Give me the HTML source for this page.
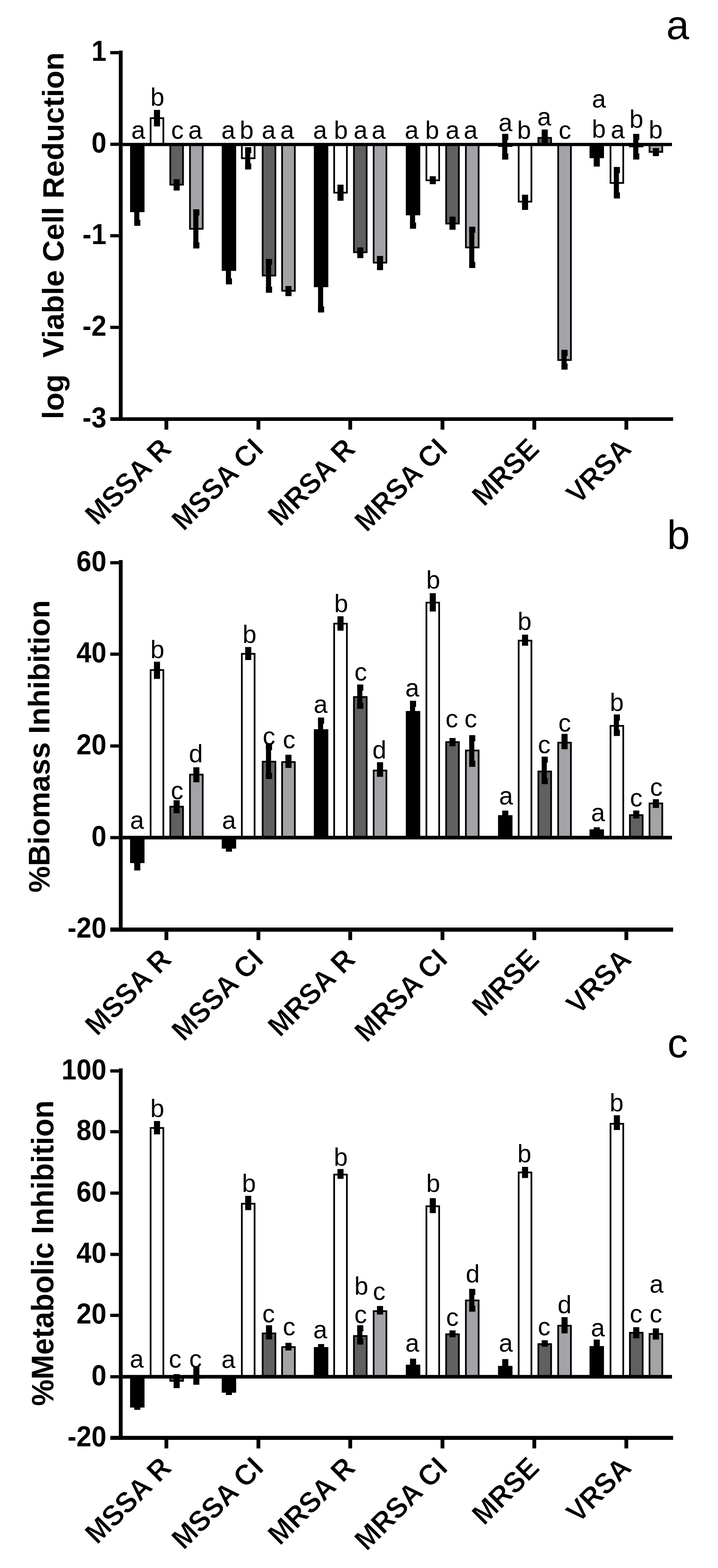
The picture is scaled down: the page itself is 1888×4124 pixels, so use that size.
<!DOCTYPE html>
<html><head><meta charset="utf-8"><title>Figure</title>
<style>
html,body{margin:0;padding:0;background:#fff;}
body{width:1888px;height:4124px;overflow:hidden;}
svg{display:block;}
text{font-family:"Liberation Sans",Arial,sans-serif;fill:#000;}
.tk{font-size:73px;font-weight:bold;text-anchor:end;}
.xl{font-size:73.3px;font-weight:bold;text-anchor:end;stroke:#fff;stroke-width:1px;stroke-linejoin:round;}
.lt{font-size:66px;text-anchor:middle;}
.ti{font-weight:bold;text-anchor:middle;white-space:pre;}
.pl{font-size:108px;text-anchor:middle;}
</style></head>
<body>
<svg width="1888" height="4124" viewBox="0 0 1888 4124">
<rect width="1888" height="4124" fill="#fff"/>
<rect x="342" y="380" width="38" height="178" fill="#000"/>
<rect x="393.8" y="308.5" width="38" height="71.5" fill="#000"/>
<rect x="398.3" y="313" width="29" height="67" fill="#ffffff"/>
<rect x="445.5" y="380" width="38" height="108" fill="#000"/>
<rect x="450" y="380" width="29" height="103.5" fill="#606060"/>
<rect x="497.3" y="380" width="38" height="224" fill="#000"/>
<rect x="501.8" y="380" width="29" height="219.5" fill="#a3a3a8"/>
<rect x="583" y="380" width="38" height="332.4" fill="#000"/>
<rect x="633.7" y="380" width="38" height="38.5" fill="#000"/>
<rect x="638.2" y="380" width="29" height="34" fill="#ffffff"/>
<rect x="688.4" y="380" width="38" height="347" fill="#000"/>
<rect x="692.9" y="380" width="29" height="342.5" fill="#606060"/>
<rect x="739.5" y="380" width="38" height="387" fill="#000"/>
<rect x="744" y="380" width="29" height="382.5" fill="#a3a3a8"/>
<rect x="825.3" y="380" width="38" height="375.3" fill="#000"/>
<rect x="876.4" y="380" width="38" height="129" fill="#000"/>
<rect x="880.9" y="380" width="29" height="124.5" fill="#ffffff"/>
<rect x="928.4" y="380" width="38" height="285.7" fill="#000"/>
<rect x="932.9" y="380" width="29" height="281.2" fill="#606060"/>
<rect x="980.3" y="380" width="38" height="313" fill="#000"/>
<rect x="984.8" y="380" width="29" height="308.5" fill="#a3a3a8"/>
<rect x="1067.1" y="380" width="38" height="186.3" fill="#000"/>
<rect x="1119" y="380" width="38" height="96.5" fill="#000"/>
<rect x="1123.5" y="380" width="29" height="92" fill="#ffffff"/>
<rect x="1170.9" y="380" width="38" height="210.3" fill="#000"/>
<rect x="1175.4" y="380" width="29" height="205.8" fill="#606060"/>
<rect x="1222.8" y="380" width="38" height="273.1" fill="#000"/>
<rect x="1227.3" y="380" width="29" height="268.6" fill="#a3a3a8"/>
<rect x="1309.6" y="380" width="38" height="6.3" fill="#000"/>
<rect x="1361.6" y="380" width="38" height="152.6" fill="#000"/>
<rect x="1366.1" y="380" width="29" height="148.1" fill="#ffffff"/>
<rect x="1413.4" y="360.4" width="38" height="19.6" fill="#000"/>
<rect x="1417.9" y="364.9" width="29" height="15.1" fill="#606060"/>
<rect x="1465.5" y="380" width="38" height="569.2" fill="#000"/>
<rect x="1470" y="380" width="29" height="564.7" fill="#a3a3a8"/>
<rect x="1550.2" y="380" width="38" height="36.1" fill="#000"/>
<rect x="1603.1" y="380" width="38" height="103.4" fill="#000"/>
<rect x="1607.6" y="380" width="29" height="98.9" fill="#ffffff"/>
<rect x="1654.1" y="380" width="38" height="7.4" fill="#000"/>
<rect x="1658.6" y="380" width="29" height="2.9" fill="#606060"/>
<rect x="1705.7" y="380" width="38" height="21.8" fill="#000"/>
<rect x="1710.2" y="380" width="29" height="17.3" fill="#a3a3a8"/>
<rect x="353" y="522" width="13.4" height="72" fill="#000"/>
<rect x="353" y="522" width="16" height="16" fill="#000"/>
<rect x="353" y="578" width="16" height="16" fill="#000"/>
<rect x="404.8" y="289" width="16" height="43.5" fill="#000"/>
<rect x="456.5" y="471.4" width="16" height="29.8" fill="#000"/>
<rect x="508.3" y="550.7" width="13.4" height="102.6" fill="#000"/>
<rect x="508.3" y="550.7" width="16" height="16" fill="#000"/>
<rect x="508.3" y="637.3" width="16" height="16" fill="#000"/>
<rect x="594" y="677" width="13.4" height="71" fill="#000"/>
<rect x="594" y="677" width="16" height="16" fill="#000"/>
<rect x="594" y="732" width="16" height="16" fill="#000"/>
<rect x="644.7" y="387" width="13.4" height="58.5" fill="#000"/>
<rect x="644.7" y="387" width="16" height="16" fill="#000"/>
<rect x="644.7" y="429.5" width="16" height="16" fill="#000"/>
<rect x="699.4" y="681" width="13.4" height="89" fill="#000"/>
<rect x="699.4" y="681" width="16" height="16" fill="#000"/>
<rect x="699.4" y="754" width="16" height="16" fill="#000"/>
<rect x="750.5" y="752.2" width="16" height="26.6" fill="#000"/>
<rect x="836.3" y="689" width="13.4" height="132.7" fill="#000"/>
<rect x="836.3" y="689" width="16" height="16" fill="#000"/>
<rect x="836.3" y="805.7" width="16" height="16" fill="#000"/>
<rect x="887.4" y="485.7" width="16" height="42.3" fill="#000"/>
<rect x="939.4" y="650.8" width="16" height="28" fill="#000"/>
<rect x="991.3" y="673.2" width="16" height="37.3" fill="#000"/>
<rect x="1078.1" y="531" width="13.4" height="70.4" fill="#000"/>
<rect x="1078.1" y="531" width="16" height="16" fill="#000"/>
<rect x="1078.1" y="585.4" width="16" height="16" fill="#000"/>
<rect x="1130" y="463.5" width="16" height="20.9" fill="#000"/>
<rect x="1181.9" y="569.8" width="16" height="34.5" fill="#000"/>
<rect x="1233.8" y="596.5" width="13.4" height="108.3" fill="#000"/>
<rect x="1233.8" y="596.5" width="16" height="16" fill="#000"/>
<rect x="1233.8" y="688.8" width="16" height="16" fill="#000"/>
<rect x="1320.6" y="352.2" width="13.4" height="67.3" fill="#000"/>
<rect x="1320.6" y="352.2" width="16" height="16" fill="#000"/>
<rect x="1320.6" y="403.5" width="16" height="16" fill="#000"/>
<rect x="1372.6" y="512.1" width="16" height="40" fill="#000"/>
<rect x="1424.4" y="340.5" width="16" height="39.5" fill="#000"/>
<rect x="1476.5" y="920.2" width="13.4" height="51.9" fill="#000"/>
<rect x="1476.5" y="920.2" width="16" height="16" fill="#000"/>
<rect x="1476.5" y="956.1" width="16" height="16" fill="#000"/>
<rect x="1561.2" y="394" width="16" height="44.1" fill="#000"/>
<rect x="1614.1" y="439.3" width="13.4" height="82.7" fill="#000"/>
<rect x="1614.1" y="439.3" width="16" height="16" fill="#000"/>
<rect x="1614.1" y="506" width="16" height="16" fill="#000"/>
<rect x="1665.1" y="352.1" width="13.4" height="67.3" fill="#000"/>
<rect x="1665.1" y="352.1" width="16" height="16" fill="#000"/>
<rect x="1665.1" y="403.4" width="16" height="16" fill="#000"/>
<rect x="1716.7" y="389.6" width="16" height="21" fill="#000"/>
<rect x="322.5" y="375.75" width="1444.5" height="8.5" fill="#000"/>
<rect x="312.5" y="133" width="10" height="973" fill="#000"/>
<rect x="290" y="1097.5" width="1480" height="9.5" fill="#000"/>
<rect x="290" y="134.25" width="22.5" height="8.5" fill="#000"/>
<text class="tk" transform="translate(279.8 160.3) scale(0.97 1.04)">1</text>
<rect x="290" y="375.25" width="22.5" height="8.5" fill="#000"/>
<text class="tk" transform="translate(279.8 401.3) scale(0.97 1.04)">0</text>
<rect x="290" y="615.75" width="22.5" height="8.5" fill="#000"/>
<text class="tk" transform="translate(279.8 641.8) scale(0.97 1.04)">-1</text>
<rect x="290" y="856.75" width="22.5" height="8.5" fill="#000"/>
<text class="tk" transform="translate(279.8 882.8) scale(0.97 1.04)">-2</text>
<rect x="290" y="1097.75" width="22.5" height="8.5" fill="#000"/>
<text class="tk" transform="translate(279.8 1123.8) scale(0.97 1.04)">-3</text>
<rect x="432.5" y="1107" width="10" height="23" fill="#000"/>
<text class="xl" transform="translate(454.9 1185.05) rotate(-45) scale(1 1.04)">MSSA R</text>
<rect x="674.5" y="1107" width="10" height="23" fill="#000"/>
<text class="xl" transform="translate(696.9 1185.05) rotate(-45) scale(1 1.04)">MSSA CI</text>
<rect x="916" y="1107" width="10" height="23" fill="#000"/>
<text class="xl" transform="translate(938.4 1185.05) rotate(-45) scale(1 1.04)">MRSA R</text>
<rect x="1158.5" y="1107" width="10" height="23" fill="#000"/>
<text class="xl" transform="translate(1180.9 1185.05) rotate(-45) scale(1 1.04)">MRSA CI</text>
<rect x="1400" y="1107" width="10" height="23" fill="#000"/>
<text class="xl" transform="translate(1422.4 1185.05) rotate(-45) scale(1 1.04)">MRSE</text>
<rect x="1642" y="1107" width="10" height="23" fill="#000"/>
<text class="xl" transform="translate(1664.4 1185.05) rotate(-45) scale(1 1.04)">VRSA</text>
<text x="363.5" y="365" class="lt">a</text>
<text x="413.9" y="277.5" class="lt">b</text>
<text x="466.6" y="365" class="lt">c</text>
<text x="513.3" y="365" class="lt">a</text>
<text x="600.3" y="365" class="lt">a</text>
<text x="648.6" y="365" class="lt">b</text>
<text x="706.7" y="365" class="lt">a</text>
<text x="755.2" y="365" class="lt">a</text>
<text x="841.7" y="365" class="lt">a</text>
<text x="896.3" y="365" class="lt">b</text>
<text x="948.1" y="365" class="lt">a</text>
<text x="995.7" y="365" class="lt">a</text>
<text x="1082.7" y="365" class="lt">a</text>
<text x="1136.3" y="365" class="lt">b</text>
<text x="1190" y="365" class="lt">a</text>
<text x="1237.5" y="365" class="lt">a</text>
<text x="1329" y="345" class="lt">a</text>
<text x="1378.2" y="364.5" class="lt">b</text>
<text x="1431" y="329.5" class="lt">a</text>
<text x="1485.6" y="364.5" class="lt">c</text>
<text x="1574.9" y="282.5" class="lt">a</text>
<text x="1574.7" y="362" class="lt">b</text>
<text x="1624.3" y="364" class="lt">a</text>
<text x="1673.3" y="335.5" class="lt">b</text>
<text x="1724" y="364" class="lt">b</text>
<text class="ti" style="font-size:78.7px" transform="translate(166.5 620) scale(1 1) rotate(-90)">log  Viable Cell Reduction</text>
<text x="1782" y="102.5" class="pl">a</text>
<rect x="342" y="2203" width="38" height="67" fill="#000"/>
<rect x="393.8" y="1760" width="38" height="443" fill="#000"/>
<rect x="398.3" y="1764.5" width="29" height="438.5" fill="#ffffff"/>
<rect x="445.5" y="2119.4" width="38" height="83.6" fill="#000"/>
<rect x="450" y="2123.9" width="29" height="79.1" fill="#606060"/>
<rect x="497.3" y="2035" width="38" height="168" fill="#000"/>
<rect x="501.8" y="2039.5" width="29" height="163.5" fill="#a3a3a8"/>
<rect x="583" y="2203" width="38" height="29" fill="#000"/>
<rect x="633.7" y="1717.3" width="38" height="485.7" fill="#000"/>
<rect x="638.2" y="1721.8" width="29" height="481.2" fill="#ffffff"/>
<rect x="688.4" y="2001" width="38" height="202" fill="#000"/>
<rect x="692.9" y="2005.5" width="29" height="197.5" fill="#606060"/>
<rect x="739.5" y="2002" width="38" height="201" fill="#000"/>
<rect x="744" y="2006.5" width="29" height="196.5" fill="#a3a3a8"/>
<rect x="825.3" y="1918" width="38" height="285" fill="#000"/>
<rect x="876.4" y="1638" width="38" height="565" fill="#000"/>
<rect x="880.9" y="1642.5" width="29" height="560.5" fill="#ffffff"/>
<rect x="928.4" y="1831" width="38" height="372" fill="#000"/>
<rect x="932.9" y="1835.5" width="29" height="367.5" fill="#606060"/>
<rect x="980.3" y="2024.3" width="38" height="178.7" fill="#000"/>
<rect x="984.8" y="2028.8" width="29" height="174.2" fill="#a3a3a8"/>
<rect x="1067.1" y="1870" width="38" height="333" fill="#000"/>
<rect x="1119" y="1582.7" width="38" height="620.3" fill="#000"/>
<rect x="1123.5" y="1587.2" width="29" height="615.8" fill="#ffffff"/>
<rect x="1170.9" y="1949.5" width="38" height="253.5" fill="#000"/>
<rect x="1175.4" y="1954" width="29" height="249" fill="#606060"/>
<rect x="1222.8" y="1971.6" width="38" height="231.4" fill="#000"/>
<rect x="1227.3" y="1976.1" width="29" height="226.9" fill="#a3a3a8"/>
<rect x="1309.6" y="2144" width="38" height="59" fill="#000"/>
<rect x="1361.6" y="1682.7" width="38" height="520.3" fill="#000"/>
<rect x="1366.1" y="1687.2" width="29" height="515.8" fill="#ffffff"/>
<rect x="1413.4" y="2026.8" width="38" height="176.2" fill="#000"/>
<rect x="1417.9" y="2031.3" width="29" height="171.7" fill="#606060"/>
<rect x="1465.5" y="1951" width="38" height="252" fill="#000"/>
<rect x="1470" y="1955.5" width="29" height="247.5" fill="#a3a3a8"/>
<rect x="1550.2" y="2181.3" width="38" height="21.7" fill="#000"/>
<rect x="1603.1" y="1906.8" width="38" height="296.2" fill="#000"/>
<rect x="1607.6" y="1911.3" width="29" height="291.7" fill="#ffffff"/>
<rect x="1654.1" y="2141.6" width="38" height="61.4" fill="#000"/>
<rect x="1658.6" y="2146.1" width="29" height="56.9" fill="#606060"/>
<rect x="1705.7" y="2110.8" width="38" height="92.2" fill="#000"/>
<rect x="1710.2" y="2115.3" width="29" height="87.7" fill="#a3a3a8"/>
<rect x="353" y="2250.6" width="16" height="38.8" fill="#000"/>
<rect x="404.8" y="1740.4" width="16" height="45.2" fill="#000"/>
<rect x="456.5" y="2104.7" width="16" height="34.3" fill="#000"/>
<rect x="508.3" y="2018" width="16" height="39.5" fill="#000"/>
<rect x="594" y="2224" width="16" height="16" fill="#000"/>
<rect x="644.7" y="1701.8" width="16" height="34.2" fill="#000"/>
<rect x="699.4" y="1957" width="13.4" height="91.6" fill="#000"/>
<rect x="699.4" y="1957" width="16" height="16" fill="#000"/>
<rect x="699.4" y="2032.6" width="16" height="16" fill="#000"/>
<rect x="750.5" y="1985" width="16" height="34.8" fill="#000"/>
<rect x="836.3" y="1887.4" width="13.4" height="61.1" fill="#000"/>
<rect x="836.3" y="1887.4" width="16" height="16" fill="#000"/>
<rect x="836.3" y="1932.5" width="16" height="16" fill="#000"/>
<rect x="887.4" y="1620.8" width="16" height="37.9" fill="#000"/>
<rect x="939.4" y="1800.5" width="13.4" height="63.6" fill="#000"/>
<rect x="939.4" y="1800.5" width="16" height="16" fill="#000"/>
<rect x="939.4" y="1848.1" width="16" height="16" fill="#000"/>
<rect x="991.3" y="2004.7" width="16" height="38.4" fill="#000"/>
<rect x="1078.1" y="1843.2" width="13.4" height="53.8" fill="#000"/>
<rect x="1078.1" y="1843.2" width="16" height="16" fill="#000"/>
<rect x="1078.1" y="1881" width="16" height="16" fill="#000"/>
<rect x="1130" y="1560.2" width="16" height="48.2" fill="#000"/>
<rect x="1181.9" y="1941" width="16" height="22" fill="#000"/>
<rect x="1233.8" y="1933.7" width="13.4" height="83.1" fill="#000"/>
<rect x="1233.8" y="1933.7" width="16" height="16" fill="#000"/>
<rect x="1233.8" y="2000.8" width="16" height="16" fill="#000"/>
<rect x="1320.6" y="2131.9" width="16" height="26.1" fill="#000"/>
<rect x="1372.6" y="1669.2" width="16" height="29.1" fill="#000"/>
<rect x="1424.4" y="1990" width="13.4" height="72.2" fill="#000"/>
<rect x="1424.4" y="1990" width="16" height="16" fill="#000"/>
<rect x="1424.4" y="2046.2" width="16" height="16" fill="#000"/>
<rect x="1476.5" y="1930.2" width="16" height="40.3" fill="#000"/>
<rect x="1561.2" y="2175.8" width="16" height="14.2" fill="#000"/>
<rect x="1614.1" y="1879.2" width="13.4" height="56.3" fill="#000"/>
<rect x="1614.1" y="1879.2" width="16" height="16" fill="#000"/>
<rect x="1614.1" y="1919.5" width="16" height="16" fill="#000"/>
<rect x="1665.1" y="2131.7" width="16" height="21" fill="#000"/>
<rect x="1716.7" y="2102" width="16" height="23" fill="#000"/>
<rect x="322.5" y="2198.25" width="1444.5" height="9.5" fill="#000"/>
<rect x="312.5" y="1473" width="10" height="977" fill="#000"/>
<rect x="290" y="2439.5" width="1480" height="11" fill="#000"/>
<rect x="290" y="1475.75" width="22.5" height="8.5" fill="#000"/>
<text class="tk" transform="translate(279.8 1501.8) scale(0.97 1.04)">60</text>
<rect x="290" y="1716.25" width="22.5" height="8.5" fill="#000"/>
<text class="tk" transform="translate(279.8 1742.3) scale(0.97 1.04)">40</text>
<rect x="290" y="1957.75" width="22.5" height="8.5" fill="#000"/>
<text class="tk" transform="translate(279.8 1983.8) scale(0.97 1.04)">20</text>
<rect x="290" y="2198.75" width="22.5" height="8.5" fill="#000"/>
<text class="tk" transform="translate(279.8 2224.8) scale(0.97 1.04)">0</text>
<rect x="290" y="2439.75" width="22.5" height="8.5" fill="#000"/>
<text class="tk" transform="translate(279.8 2465.8) scale(0.97 1.04)">-20</text>
<rect x="432.5" y="2450.5" width="10" height="22" fill="#000"/>
<text class="xl" transform="translate(454.9 2527.55) rotate(-45) scale(1 1.04)">MSSA R</text>
<rect x="674.5" y="2450.5" width="10" height="22" fill="#000"/>
<text class="xl" transform="translate(696.9 2527.55) rotate(-45) scale(1 1.04)">MSSA CI</text>
<rect x="916" y="2450.5" width="10" height="22" fill="#000"/>
<text class="xl" transform="translate(938.4 2527.55) rotate(-45) scale(1 1.04)">MRSA R</text>
<rect x="1158.5" y="2450.5" width="10" height="22" fill="#000"/>
<text class="xl" transform="translate(1180.9 2527.55) rotate(-45) scale(1 1.04)">MRSA CI</text>
<rect x="1400" y="2450.5" width="10" height="22" fill="#000"/>
<text class="xl" transform="translate(1422.4 2527.55) rotate(-45) scale(1 1.04)">MRSE</text>
<rect x="1642" y="2450.5" width="10" height="22" fill="#000"/>
<text class="xl" transform="translate(1664.4 2527.55) rotate(-45) scale(1 1.04)">VRSA</text>
<text x="360.4" y="2179.5" class="lt">a</text>
<text x="413.9" y="1730.5" class="lt">b</text>
<text x="465.7" y="2101.5" class="lt">c</text>
<text x="515" y="2005" class="lt">d</text>
<text x="602" y="2180" class="lt">a</text>
<text x="656" y="1691" class="lt">b</text>
<text x="707.2" y="1958.5" class="lt">c</text>
<text x="760.2" y="1967.5" class="lt">c</text>
<text x="843" y="1874.5" class="lt">a</text>
<text x="897" y="1610" class="lt">b</text>
<text x="948.5" y="1790" class="lt">c</text>
<text x="997.5" y="1994.5" class="lt">d</text>
<text x="1084" y="1831.5" class="lt">a</text>
<text x="1139" y="1547.5" class="lt">b</text>
<text x="1188" y="1913" class="lt">c</text>
<text x="1237.7" y="1913" class="lt">c</text>
<text x="1330.5" y="2115.5" class="lt">a</text>
<text x="1379.3" y="1657" class="lt">b</text>
<text x="1431" y="1981" class="lt">c</text>
<text x="1484.8" y="1923.5" class="lt">c</text>
<text x="1572.7" y="2160" class="lt">a</text>
<text x="1621.9" y="1870" class="lt">b</text>
<text x="1673" y="2121" class="lt">c</text>
<text x="1725.7" y="2092.5" class="lt">c</text>
<text class="ti" style="font-size:78.2px" transform="translate(129.7 1963) scale(1 1) rotate(-90)">%Biomass Inhibition</text>
<text x="1784" y="1444" class="pl">b</text>
<rect x="342" y="3621" width="38" height="81" fill="#000"/>
<rect x="393.8" y="2964.4" width="38" height="656.6" fill="#000"/>
<rect x="398.3" y="2968.9" width="29" height="652.1" fill="#ffffff"/>
<rect x="445.5" y="3621" width="38" height="13" fill="#000"/>
<rect x="450" y="3621" width="29" height="8.5" fill="#606060"/>
<rect x="497.3" y="3621" width="38" height="5" fill="#000"/>
<rect x="501.8" y="3621" width="29" height="0.5" fill="#a3a3a8"/>
<rect x="583" y="3621" width="38" height="41.9" fill="#000"/>
<rect x="633.7" y="3163.6" width="38" height="457.4" fill="#000"/>
<rect x="638.2" y="3168.1" width="29" height="452.9" fill="#ffffff"/>
<rect x="688.4" y="3504.7" width="38" height="116.3" fill="#000"/>
<rect x="692.9" y="3509.2" width="29" height="111.8" fill="#606060"/>
<rect x="739.5" y="3540.7" width="38" height="80.3" fill="#000"/>
<rect x="744" y="3545.2" width="29" height="75.8" fill="#a3a3a8"/>
<rect x="825.3" y="3543" width="38" height="78" fill="#000"/>
<rect x="876.4" y="3087" width="38" height="534" fill="#000"/>
<rect x="880.9" y="3091.5" width="29" height="529.5" fill="#ffffff"/>
<rect x="928.4" y="3511.5" width="38" height="109.5" fill="#000"/>
<rect x="932.9" y="3516" width="29" height="105" fill="#606060"/>
<rect x="980.3" y="3446.2" width="38" height="174.8" fill="#000"/>
<rect x="984.8" y="3450.7" width="29" height="170.3" fill="#a3a3a8"/>
<rect x="1067.1" y="3589.2" width="38" height="31.8" fill="#000"/>
<rect x="1119" y="3170.3" width="38" height="450.7" fill="#000"/>
<rect x="1123.5" y="3174.8" width="29" height="446.2" fill="#ffffff"/>
<rect x="1170.9" y="3507" width="38" height="114" fill="#000"/>
<rect x="1175.4" y="3511.5" width="29" height="109.5" fill="#606060"/>
<rect x="1222.8" y="3418" width="38" height="203" fill="#000"/>
<rect x="1227.3" y="3422.5" width="29" height="198.5" fill="#a3a3a8"/>
<rect x="1309.6" y="3592.5" width="38" height="28.5" fill="#000"/>
<rect x="1361.6" y="3081.4" width="38" height="539.6" fill="#000"/>
<rect x="1366.1" y="3085.9" width="29" height="535.1" fill="#ffffff"/>
<rect x="1413.4" y="3532.9" width="38" height="88.1" fill="#000"/>
<rect x="1417.9" y="3537.4" width="29" height="83.6" fill="#606060"/>
<rect x="1465.5" y="3484.5" width="38" height="136.5" fill="#000"/>
<rect x="1470" y="3489" width="29" height="132" fill="#a3a3a8"/>
<rect x="1550.2" y="3540.3" width="38" height="80.7" fill="#000"/>
<rect x="1603.1" y="2953.4" width="38" height="667.6" fill="#000"/>
<rect x="1607.6" y="2957.9" width="29" height="663.1" fill="#ffffff"/>
<rect x="1654.1" y="3503" width="38" height="118" fill="#000"/>
<rect x="1658.6" y="3507.5" width="29" height="113.5" fill="#606060"/>
<rect x="1705.7" y="3506.1" width="38" height="114.9" fill="#000"/>
<rect x="1710.2" y="3510.6" width="29" height="110.4" fill="#a3a3a8"/>
<rect x="353" y="3696" width="16" height="12" fill="#000"/>
<rect x="404.8" y="2948.4" width="16" height="35.1" fill="#000"/>
<rect x="456.5" y="3614" width="16" height="37" fill="#000"/>
<rect x="508.3" y="3594.7" width="16" height="47.3" fill="#000"/>
<rect x="594" y="3657" width="16" height="12" fill="#000"/>
<rect x="644.7" y="3145.1" width="16" height="37.6" fill="#000"/>
<rect x="699.4" y="3485.6" width="16" height="37.1" fill="#000"/>
<rect x="750.5" y="3531.7" width="16" height="20.3" fill="#000"/>
<rect x="836.3" y="3535" width="16" height="18" fill="#000"/>
<rect x="887.4" y="3074.6" width="16" height="25.9" fill="#000"/>
<rect x="939.4" y="3485.6" width="13.4" height="50.6" fill="#000"/>
<rect x="939.4" y="3485.6" width="16" height="16" fill="#000"/>
<rect x="939.4" y="3520.2" width="16" height="16" fill="#000"/>
<rect x="991.3" y="3434.9" width="16" height="22.5" fill="#000"/>
<rect x="1078.1" y="3573.4" width="16" height="33.6" fill="#000"/>
<rect x="1130" y="3151.2" width="16" height="39.4" fill="#000"/>
<rect x="1181.9" y="3499" width="16" height="18.1" fill="#000"/>
<rect x="1233.8" y="3389.9" width="13.4" height="59.7" fill="#000"/>
<rect x="1233.8" y="3389.9" width="16" height="16" fill="#000"/>
<rect x="1233.8" y="3433.6" width="16" height="16" fill="#000"/>
<rect x="1320.6" y="3574.5" width="16" height="37.5" fill="#000"/>
<rect x="1372.6" y="3069" width="16" height="29.3" fill="#000"/>
<rect x="1424.4" y="3525" width="16" height="16.9" fill="#000"/>
<rect x="1476.5" y="3464.2" width="16" height="42.8" fill="#000"/>
<rect x="1561.2" y="3523.2" width="16" height="34.8" fill="#000"/>
<rect x="1614.1" y="2933.2" width="16" height="38.8" fill="#000"/>
<rect x="1665.1" y="3490.6" width="16" height="29.4" fill="#000"/>
<rect x="1716.7" y="3493.7" width="16" height="29.5" fill="#000"/>
<rect x="322.5" y="3616.25" width="1444.5" height="9.5" fill="#000"/>
<rect x="312.5" y="2810" width="10" height="977" fill="#000"/>
<rect x="290" y="3776.5" width="1480" height="10.5" fill="#000"/>
<rect x="290" y="2812.45" width="22.5" height="8.5" fill="#000"/>
<text class="tk" transform="translate(279.8 2838.5) scale(0.97 1.04)">100</text>
<rect x="290" y="2972.25" width="22.5" height="8.5" fill="#000"/>
<text class="tk" transform="translate(279.8 2998.3) scale(0.97 1.04)">80</text>
<rect x="290" y="3133.75" width="22.5" height="8.5" fill="#000"/>
<text class="tk" transform="translate(279.8 3159.8) scale(0.97 1.04)">60</text>
<rect x="290" y="3294.95" width="22.5" height="8.5" fill="#000"/>
<text class="tk" transform="translate(279.8 3321) scale(0.97 1.04)">40</text>
<rect x="290" y="3455.25" width="22.5" height="8.5" fill="#000"/>
<text class="tk" transform="translate(279.8 3481.3) scale(0.97 1.04)">20</text>
<rect x="290" y="3616.75" width="22.5" height="8.5" fill="#000"/>
<text class="tk" transform="translate(279.8 3642.8) scale(0.97 1.04)">0</text>
<rect x="290" y="3777.75" width="22.5" height="8.5" fill="#000"/>
<text class="tk" transform="translate(279.8 3803.8) scale(0.97 1.04)">-20</text>
<rect x="432.5" y="3787" width="10" height="22.5" fill="#000"/>
<text class="xl" transform="translate(454.9 3864.55) rotate(-45) scale(1 1.04)">MSSA R</text>
<rect x="674.5" y="3787" width="10" height="22.5" fill="#000"/>
<text class="xl" transform="translate(696.9 3864.55) rotate(-45) scale(1 1.04)">MSSA CI</text>
<rect x="916" y="3787" width="10" height="22.5" fill="#000"/>
<text class="xl" transform="translate(938.4 3864.55) rotate(-45) scale(1 1.04)">MRSA R</text>
<rect x="1158.5" y="3787" width="10" height="22.5" fill="#000"/>
<text class="xl" transform="translate(1180.9 3864.55) rotate(-45) scale(1 1.04)">MRSA CI</text>
<rect x="1400" y="3787" width="10" height="22.5" fill="#000"/>
<text class="xl" transform="translate(1422.4 3864.55) rotate(-45) scale(1 1.04)">MRSE</text>
<rect x="1642" y="3787" width="10" height="22.5" fill="#000"/>
<text class="xl" transform="translate(1664.4 3864.55) rotate(-45) scale(1 1.04)">VRSA</text>
<text x="359.5" y="3597" class="lt">a</text>
<text x="413.5" y="2937.5" class="lt">b</text>
<text x="460.5" y="3597" class="lt">c</text>
<text x="514" y="3596.5" class="lt">c</text>
<text x="600.7" y="3597.5" class="lt">a</text>
<text x="654.5" y="3134.5" class="lt">b</text>
<text x="706.3" y="3478" class="lt">c</text>
<text x="760.3" y="3511.5" class="lt">c</text>
<text x="842.1" y="3519.5" class="lt">a</text>
<text x="896.2" y="3066" class="lt">b</text>
<text x="950.2" y="3405" class="lt">b</text>
<text x="948.3" y="3480" class="lt">c</text>
<text x="996.9" y="3418.5" class="lt">c</text>
<text x="1084.1" y="3554.5" class="lt">a</text>
<text x="1139.2" y="3134.5" class="lt">b</text>
<text x="1189.6" y="3487" class="lt">c</text>
<text x="1243.1" y="3372.5" class="lt">d</text>
<text x="1330" y="3554.5" class="lt">a</text>
<text x="1378.8" y="3057" class="lt">b</text>
<text x="1430.8" y="3511.5" class="lt">c</text>
<text x="1484.5" y="3453.5" class="lt">d</text>
<text x="1572" y="3515" class="lt">a</text>
<text x="1621.3" y="2922.5" class="lt">b</text>
<text x="1672.4" y="3477.5" class="lt">c</text>
<text x="1726.4" y="3400" class="lt">a</text>
<text x="1724.8" y="3477.5" class="lt">c</text>
<text class="ti" style="font-size:78.2px" transform="translate(140 3296) scale(1.05 1) rotate(-90)">%Metabolic Inhibition</text>
<text x="1782" y="2781" class="pl">c</text>
</svg>
</body></html>
